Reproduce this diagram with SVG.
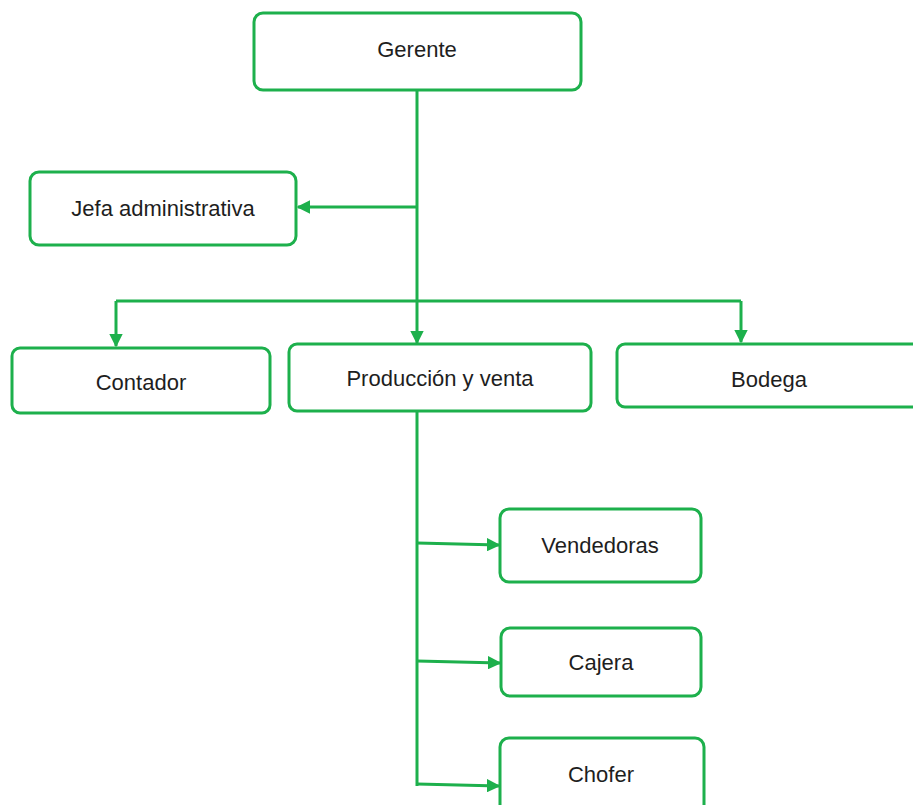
<svg xmlns="http://www.w3.org/2000/svg" width="913" height="805" viewBox="0 0 913 805">
<style>
.box{fill:#fff;stroke:#1db04c;stroke-width:3}
.t{font-family:"Liberation Sans",Arial,sans-serif;font-size:22px;fill:#1e1e1e;text-anchor:middle;dominant-baseline:central}
.c{fill:none;stroke:#1db04c;stroke-width:3}
</style>
<defs>
<marker id="ah" viewBox="0 0 10 10" refX="9" refY="5" markerWidth="4.5" markerHeight="4.5" orient="auto" markerUnits="strokeWidth">
<path d="M0,0 L10,5 L0,10 z" fill="#1db04c"/>
</marker>
</defs>
<rect width="913" height="805" fill="#fff"/>
<g id="connectors">
<path class="c" d="M417,90 V207 M417,207 H298" marker-end="url(#ah)"/>
<path class="c" d="M417,207 V343" marker-end="url(#ah)"/>
<path class="c" d="M116,301 H741"/>
<path class="c" d="M116,301 V346" marker-end="url(#ah)"/>
<path class="c" d="M741,301 V342" marker-end="url(#ah)"/>
<path class="c" d="M417,412 V786"/>
<path class="c" d="M417,543 L499,545" marker-end="url(#ah)"/>
<path class="c" d="M417,661 L500,663" marker-end="url(#ah)"/>
<path class="c" d="M417,784 L499,786" marker-end="url(#ah)"/>
</g>
<g id="gerente"><rect class="box" x="254" y="13" width="327" height="77" rx="9"/><text class="t" x="417" y="49">Gerente</text></g>
<g id="jefa"><rect class="box" x="30" y="172" width="266" height="73" rx="9"/><text class="t" x="163" y="208">Jefa administrativa</text></g>
<g id="contador"><rect class="box" x="12" y="348" width="258" height="65" rx="8"/><text class="t" x="141" y="382">Contador</text></g>
<g id="produccion"><rect class="box" x="289" y="344" width="302" height="67" rx="8"/><text class="t" x="440" y="378">Producción y venta</text></g>
<g id="bodega"><rect class="box" x="617" y="344" width="310" height="63" rx="8"/><text class="t" x="769" y="379">Bodega</text></g>
<g id="vendedoras"><rect class="box" x="500" y="509" width="201" height="73" rx="9"/><text class="t" x="600" y="545">Vendedoras</text></g>
<g id="cajera"><rect class="box" x="501" y="628" width="200" height="68" rx="9"/><text class="t" x="601" y="662">Cajera</text></g>
<g id="chofer"><rect class="box" x="500" y="738" width="204" height="80" rx="9"/><text class="t" x="601" y="774">Chofer</text></g>
</svg>
